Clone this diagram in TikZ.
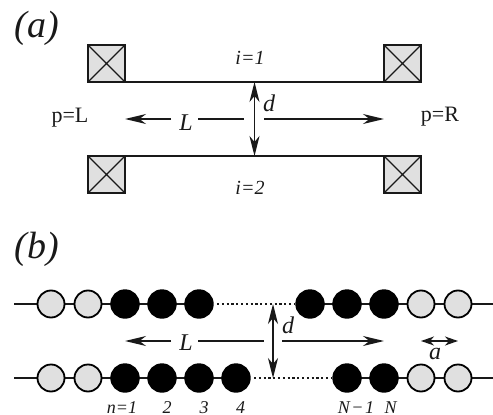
\documentclass[tikz,border=0pt]{standalone}
\usepackage{fontspec}
\setmainfont{Liberation Serif}
\usetikzlibrary{arrows.meta}
\definecolor{fillgray}{gray}{0.88}
\definecolor{inkc}{gray}{0.1}
\tikzset{
  x=1pt,y=-1pt,
  lbl/.style={inner sep=0pt,text=inkc},
  tag/.style={lbl,font=\fontsize{38}{38}\selectfont\itshape},
  ital/.style={lbl,font=\fontsize{24}{24}\selectfont\itshape},
  small/.style={lbl,font=\fontsize{20}{20}\selectfont\itshape},
  tiny/.style={lbl,font=\fontsize{18}{18}\selectfont\itshape},
  port/.style={lbl,font=\fontsize{22}{22}\selectfont},
  lead/.style={draw=inkc,fill=fillgray,line width=1.6pt,minimum size=37pt,inner sep=0pt,outer sep=0pt},
  wire/.style={draw=inkc,line width=1.5pt},
  cross/.style={draw=inkc,line width=1.4pt},
  dimen/.style={draw=inkc,line width=1.4pt},
  tip/.style={-{Stealth[length=21pt,width=10pt,inset=6.5pt]}},
  bothtip/.style={{Stealth[length=20pt,width=10pt,inset=6pt]}-{Stealth[length=20pt,width=10pt,inset=6pt]}},
  smalltip/.style={{Stealth[length=13pt,width=9pt,inset=4pt]}-{Stealth[length=13pt,width=9pt,inset=4pt]}},
  sitefull/.style={circle,fill=black,draw=black,line width=1.4pt,minimum size=28pt,inner sep=0pt,outer sep=0pt},
  siteopen/.style={circle,fill=fillgray,draw=black,line width=1.8pt,minimum size=27pt,inner sep=0pt,outer sep=0pt},
  dots/.style={draw=inkc,line width=2.1pt,dash pattern=on 2.2pt off 2.6pt},
}
\begin{document}
\begin{tikzpicture}
\useasboundingbox (0,0) rectangle (493,415);
% ---------- (a) ----------
\node[tag,anchor=base] (taga) at (37,37) {(a)};
\foreach \n/\px/\py in {tl/106.5/63.5,tr/402.5/63.5,bl/106.5/174.5,br/402.5/174.5}{
  \node[lead] (\n) at (\px,\py) {};
  \draw[cross] (\n.north west) -- (\n.south east) (\n.north east) -- (\n.south west);
}
\draw[wire] (tl.south east) -- (tr.south west);
\draw[wire] (bl.north east) -- (br.north west);
\node[small,anchor=base] (i1) at (250,64) {i=1};
\node[small,anchor=base] (i2) at (250,194) {i=2};
\coordinate (dt) at (254.5,82);
\coordinate (db) at (254.5,156);
\draw[dimen,bothtip] (dt) -- (db);
\node[ital,anchor=base] (da) at (269,111) {d};
\node[port,anchor=base] (pl) at (70,122) {p=L};
\node[port,anchor=base] (pr) at (440,121) {p=R};
\node[ital,anchor=base] (La) at (186,130) {L};
\coordinate (al) at (125,119);
\coordinate (ar) at (384,119);
\coordinate (as) at (171,119);
\coordinate (am) at (198,119);
\coordinate (ae) at (244,119);
\coordinate (an) at (264,119);
\draw[dimen,tip] (as) -- (al);
\draw[dimen] (am) -- (ae);
\draw[dimen,tip] (an) -- (ar);
% ---------- (b) ----------
\node[tag,anchor=base] (tagb) at (37,258) {(b)};
\coordinate (tw1) at (14,304);
\coordinate (tw2) at (493,304);
\coordinate (bw1) at (14,378);
\coordinate (bw2) at (493,378);
\draw[wire] (tw1) -- (199,304);
\draw[wire] (310,304) -- (tw2);
\draw[wire] (bw1) -- (236,378);
\draw[wire] (347,378) -- (bw2);
\foreach \n/\px in {ta/51,tb/88,bta/421,btb/458}{\node[siteopen] (\n) at (\px,304) {};}
\foreach \n/\px in {tc/125,td/162,te/199,tf/310,tg/347,th/384}{\node[sitefull] (\n) at (\px,304) {};}
\foreach \n/\px in {ba/51,bb/88,bra/421,brb/458}{\node[siteopen] (\n) at (\px,378) {};}
\foreach \n/\px in {bc/125,bd/162,be/199,bf/236,bg/347,bh/384}{\node[sitefull] (\n) at (\px,378) {};}
\draw[dots] ([xshift=4pt]te.east) -- ([xshift=-2pt]tf.west);
\draw[dots] ([xshift=4pt]bf.east) -- ([xshift=-2pt]bg.west);
\coordinate (edt) at (273,304);
\coordinate (edb) at (273,378);
\draw[dimen,bothtip] (edt) -- (edb);
\node[ital,anchor=base] (db2) at (288,333) {d};
\node[ital,anchor=base] (Lb) at (186,350) {L};
\coordinate (bl1) at (125,341);
\coordinate (bs) at (171,341);
\coordinate (bm) at (198,341);
\coordinate (be2) at (264,341);
\coordinate (bn) at (282,341);
\coordinate (br1) at (384,341);
\draw[dimen,tip] (bs) -- (bl1);
\draw[dimen] (bm) -- (be2);
\draw[dimen,tip] (bn) -- (br1);
\coordinate (a1) at (421,341);
\coordinate (a2) at (458,341);
\draw[dimen,smalltip] (a1) -- (a2);
\node[ital,anchor=base] (alab) at (435,359) {a};
\node[tiny,anchor=base] (n1) at (122,413) {n=1};
\node[tiny,anchor=base] (n2) at (167,413) {2};
\node[tiny,anchor=base] (n3) at (204,413) {3};
\node[tiny,anchor=base] (n4) at (240.5,413) {4};
\node[tiny,anchor=base] (nn1) at (356,413) {N\kern1.5pt−\kern1.5pt1};
\node[tiny,anchor=base] (nn) at (390.5,413) {N};
\end{tikzpicture}
\end{document}
